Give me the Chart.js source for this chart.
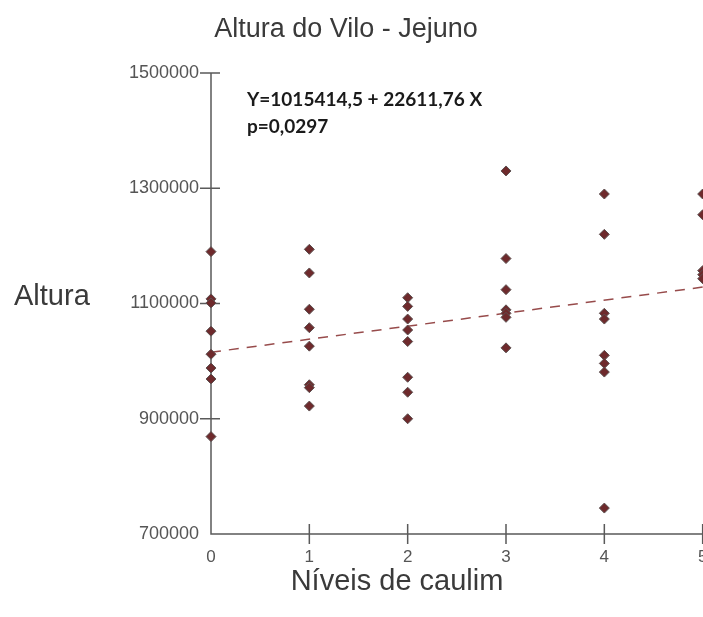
<!DOCTYPE html>
<html>
<head>
<meta charset="utf-8">
<script src="https://cdn.jsdelivr.net/npm/chart.js@4"></script>
<style>
  html, body { margin: 0; padding: 0; background: #fff; overflow: hidden; }
  #wrap { width: 830px; height: 617px; }
</style>
</head>
<body>
<div id="wrap"><canvas id="scatterChart" width="830" height="617"></canvas></div>
<script>
const niveis = [0, 1, 2, 3, 4, 5];
const alturaNivel0 = [1190000, 1108000, 1101000, 1052000, 1012000, 988000, 969000, 869000];
const alturaNivel1 = [1194000, 1153000, 1090000, 1058000, 1026000, 959000, 954000, 922000];
const alturaNivel2 = [1110000, 1095000, 1073000, 1054000, 1034000, 972000, 946000, 900000];
const alturaNivel3 = [1330000, 1178000, 1124000, 1089000, 1083000, 1076000, 1023000];
const alturaNivel4 = [1290000, 1220000, 1083000, 1073000, 1010000, 996000, 981000, 745000];
const alturaNivel5 = [1290000, 1254000, 1157000, 1150000, 1143000];
const yTicks = [700000, 900000, 1100000, 1300000, 1500000];

// regression: Y = 1015414,5 + 22611,76 X
const intercepto = 1015414.5;
const inclinacao = 22611.76;

const alturasPorNivel = [alturaNivel0, alturaNivel1, alturaNivel2, alturaNivel3, alturaNivel4, alturaNivel5];

const pontos = [];
alturasPorNivel.forEach((valores, i) => {
  valores.forEach((v) => pontos.push({ x: niveis[i], y: v }));
});

const retaRegressao = [0, 5].map((x) => ({ x, y: intercepto + inclinacao * x }));

const AXIS_COLOR = "#5a5a5a";
const TEXT_COLOR = "#3a3a3a";

const axisPlugin = {
  id: "axisPlugin",
  beforeDatasetsDraw(chart) {
    const { ctx, chartArea, scales } = chart;
    const xs = scales.x;
    const ys = scales.y;
    ctx.save();
    ctx.strokeStyle = AXIS_COLOR;
    ctx.lineWidth = 1.5;
    ctx.beginPath();
    ctx.moveTo(chartArea.left, ys.getPixelForValue(1500000));
    ctx.lineTo(chartArea.left, chartArea.bottom);
    ctx.lineTo(chart.width, chartArea.bottom);
    // crossing tick marks
    yTicks.slice(1).forEach((v) => {
      const py = ys.getPixelForValue(v);
      ctx.moveTo(chartArea.left - 11, py);
      ctx.lineTo(chartArea.left + 9, py);
    });
    niveis.slice(1).forEach((v) => {
      const px = xs.getPixelForValue(v);
      ctx.moveTo(px, chartArea.bottom - 10);
      ctx.lineTo(px, chartArea.bottom + 10);
    });
    ctx.stroke();
    ctx.restore();
  },
  afterDraw(chart) {
    const { ctx } = chart;
    ctx.save();
    ctx.fillStyle = TEXT_COLOR;
    ctx.textBaseline = "alphabetic";

    ctx.font = "27px 'Liberation Sans', Arial, sans-serif";
    ctx.textAlign = "center";
    ctx.fillText("Altura do Vilo - Jejuno", 346, 37);

    ctx.font = "29px 'Liberation Sans', Arial, sans-serif";
    ctx.fillText("Níveis de caulim", 397, 590);

    ctx.textAlign = "left";
    ctx.fillText("Altura", 14, 305);

    ctx.fillStyle = "#1a1a1a";
    ctx.font = "bold 19px Lato, sans-serif";
    ctx.fillText("Y=1015414,5 + 22611,76 X", 247, 106);
    ctx.fillText("p=0,0297", 247, 133);
    ctx.restore();
  },
};

function createScatterChart() {
  const canvas = document.getElementById("scatterChart");
  if (!canvas) {
    return;
  }

  new Chart(canvas, {
    type: "scatter",
    data: {
      datasets: [
        {
          type: "line",
          label: "Regressão",
          data: retaRegressao,
          borderColor: "rgba(140, 55, 55, 0.9)",
          borderWidth: 1.5,
          borderDash: [10, 8],
          pointRadius: 0,
          fill: false,
          clip: false,
          order: 2,
        },
        {
          label: "Altura",
          data: pontos,
          pointStyle: "rectRot",
          pointRadius: 5,
          pointBackgroundColor: "#6e2a2c",
          pointBorderColor: "#5c5050",
          pointBorderWidth: 1,
          clip: false,
          order: 1,
        },
      ],
    },
    options: {
      responsive: false,
      animation: false,
      layout: { padding: { left: 0, top: 73, right: 29, bottom: 51 } },
      scales: {
        x: {
          type: "linear",
          min: 0,
          max: 6,
          afterFit(scale) { scale.height = 32; },
          grid: { display: false, drawTicks: false },
          border: { display: false },
          ticks: {
            stepSize: 1,
            padding: 13,
            maxRotation: 0,
            autoSkip: false,
            color: "#555",
            font: { family: "'Liberation Sans', Arial, sans-serif", size: 17 },
          },
        },
        y: {
          min: 700000,
          max: 1500000,
          afterFit(scale) { scale.width = 211; },
          afterBuildTicks(scale) { scale.ticks = yTicks.map((v) => ({ value: v })); },
          grid: { display: false, drawTicks: false },
          border: { display: false },
          ticks: {
            padding: 12,
            color: "#555",
            font: { family: "'Liberation Sans', Arial, sans-serif", size: 18 },
            callback: (v) => String(v),
          },
        },
      },
      plugins: {
        legend: { display: false },
        tooltip: { enabled: false },
      },
    },
    plugins: [axisPlugin],
  });
}

createScatterChart();
</script>
</body>
</html>
